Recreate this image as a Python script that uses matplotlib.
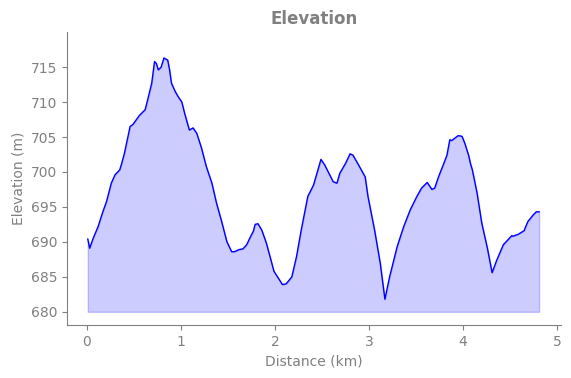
import matplotlib
matplotlib.use("Agg")
import matplotlib.pyplot as plt

distance_km = [0.01, 0.03, 0.07, 0.12, 0.17, 0.21, 0.26, 0.30, 0.35, 0.37, 0.40, 0.46,
               0.49, 0.56, 0.62, 0.65, 0.69, 0.72, 0.74, 0.76, 0.79, 0.82, 0.86, 0.88,
               0.90, 0.94, 0.97, 1.01, 1.04, 1.09, 1.13, 1.17, 1.22, 1.27, 1.33, 1.38,
               1.43, 1.49, 1.54, 1.57, 1.62, 1.66, 1.70, 1.75, 1.77, 1.79, 1.82, 1.86,
               1.91, 1.99, 2.08, 2.12, 2.18, 2.23, 2.28, 2.35, 2.41, 2.49, 2.53, 2.62,
               2.66, 2.69, 2.75, 2.80, 2.83, 2.89, 2.96, 2.99, 3.06, 3.12, 3.17, 3.22,
               3.30, 3.37, 3.44, 3.51, 3.56, 3.62, 3.67, 3.70, 3.74, 3.79, 3.83, 3.86,
               3.88, 3.95, 3.99, 4.02, 4.06, 4.08, 4.10, 4.15, 4.20, 4.26, 4.31, 4.36,
               4.43, 4.52, 4.53, 4.59, 4.65, 4.69, 4.75, 4.78, 4.81]
elevation_m = [690.4, 689.1, 690.6, 692.2, 694.3, 695.8, 698.4, 699.6, 700.3, 701.2, 702.7, 706.5,
               706.8, 708.1, 708.9, 710.5, 712.7, 715.8, 715.5, 714.6, 715.0, 716.3, 716.0, 714.6,
               712.7, 711.5, 710.8, 710.0, 708.4, 706.0, 706.3, 705.5, 703.4, 700.8, 698.4, 695.5,
               693.1, 690.0, 688.6, 688.6, 688.9, 689.0, 689.6, 691.0, 691.5, 692.5, 692.6, 691.7,
               689.8, 685.8, 683.9, 684.0, 685.0, 687.9, 691.7, 696.5, 698.1, 701.8, 701.0, 698.6,
               698.4, 699.8, 701.2, 702.6, 702.4, 701.0, 699.3, 696.5, 691.7, 687.0, 681.8, 685.0,
               689.3, 692.2, 694.6, 696.5, 697.7, 698.5, 697.5, 697.7, 699.3, 701.0, 702.4, 704.6,
               704.5, 705.2, 705.1, 704.1, 702.4, 701.2, 700.3, 697.0, 692.7, 689.1, 685.6, 687.4,
               689.6, 690.9, 690.8, 691.1, 691.6, 692.9, 693.9, 694.3, 694.3]

gray = "#808080"
fig = plt.figure(figsize=(5.71, 3.78), dpi=100)
ax = fig.add_axes([0.117, 0.14, 0.865, 0.775])
base = 680
ax.fill_between(distance_km, elevation_m, base, color="blue", alpha=0.2)
ax.plot(distance_km, elevation_m, color="blue", linewidth=1)
ax.set_xlim(-0.213, 5.04)
ax.set_ylim(678.1, 720)
ax.set_yticks([680, 685, 690, 695, 700, 705, 710, 715])
ax.set_xticks([0, 1, 2, 3, 4, 5])
for s in ["top", "right"]:
    ax.spines[s].set_visible(False)
for s in ["left", "bottom"]:
    ax.spines[s].set_color(gray)
ax.tick_params(colors=gray, labelcolor=gray, labelsize=10)
ax.set_xlabel("Distance (km)", color=gray, fontsize=10)
ax.set_ylabel("Elevation (m)", color=gray, fontsize=10)
ax.set_title("Elevation", color=gray, fontsize=12, fontweight="bold")
fig.savefig("out.png", dpi=100)
